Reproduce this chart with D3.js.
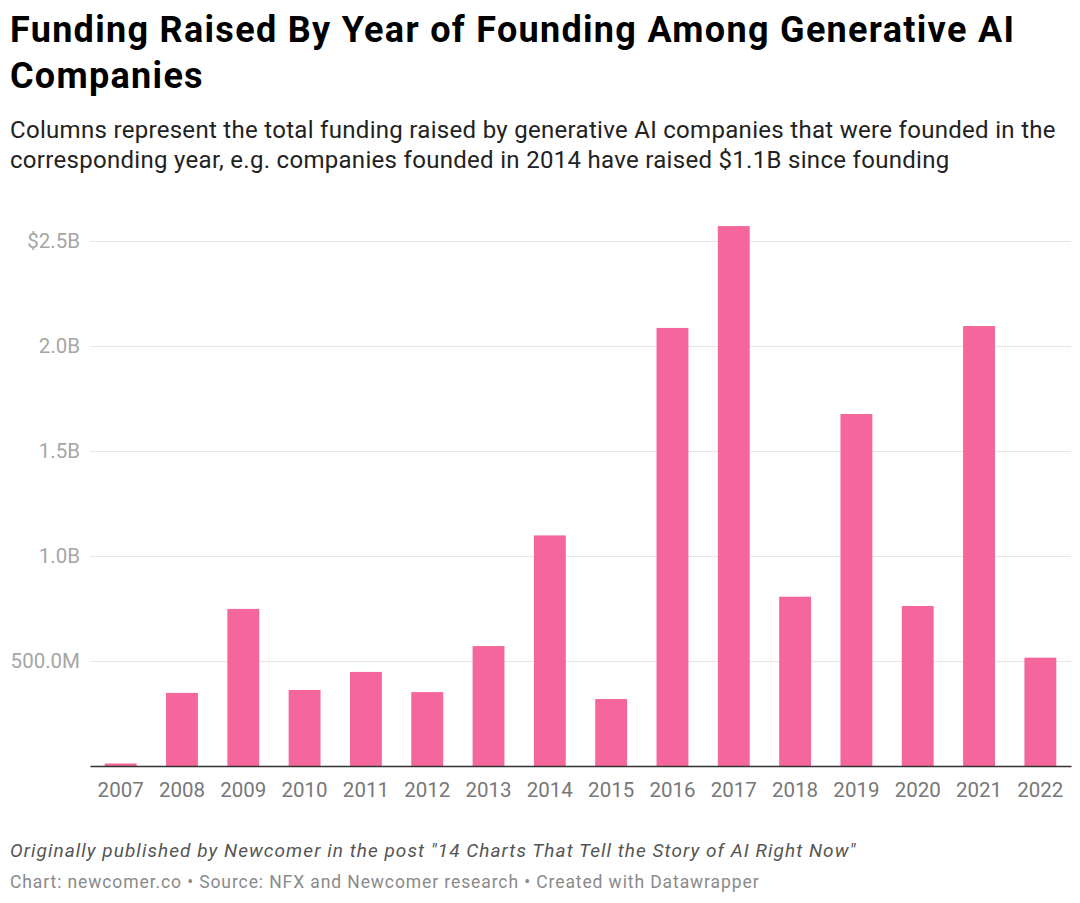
<!DOCTYPE html>
<html>
<head>
<meta charset="utf-8">
<script src="https://cdn.jsdelivr.net/npm/d3@7"></script>
<style>
    body { margin: 0; background: #fff; font-family: Roboto, sans-serif; }
    svg text { font-family: Roboto, sans-serif; }
</style>
</head>
<body>
<svg class="canvas" width="1080" height="903"></svg>
<script>
const years = ['2007', '2008', '2009', '2010', '2011', '2012', '2013', '2014',
    '2015', '2016', '2017', '2018', '2019', '2020', '2021', '2022'];
// funding in billions of dollars
const funding = [0.012, 0.348, 0.748, 0.362, 0.448, 0.352, 0.571, 1.098,
    0.319, 2.086, 2.571, 0.806, 1.676, 0.762, 2.095, 0.516];
const yTicks = [0, 0.5, 1.0, 1.5, 2.0, 2.5];
const yTickLabels = ['', '500.0M', '1.0B', '1.5B', '2.0B', '$2.5B'];

const titleLines = ['Funding Raised By Year of Founding Among Generative AI', 'Companies'];
const subtitleLines = [
    'Columns represent the total funding raised by generative AI companies that were founded in the',
    'corresponding year, e.g. companies founded in 2014 have raised $1.1B since founding'
];
const noteText = 'Originally published by Newcomer in the post "14 Charts That Tell the Story of AI Right Now"';
const sourceText = 'Chart: newcomer.co \u2022 Source: NFX and Newcomer research \u2022 Created with Datawrapper';

const data = years.map((y, i) => ({ year: y, value: funding[i] }));

const canvas = d3.select('.canvas');

// header
canvas.append('g')
    .selectAll('text')
    .data(titleLines)
    .enter()
    .append('text')
    .attr('x', 10)
    .attr('y', (d, i) => 42 + i * 46)
    .attr('font-size', 36)
    .attr('font-weight', 700)
    .attr('letter-spacing', 1.3)
    .attr('fill', '#000')
    .text(d => d);

canvas.append('g')
    .selectAll('text')
    .data(subtitleLines)
    .enter()
    .append('text')
    .attr('x', 10)
    .attr('y', (d, i) => 138 + i * 30)
    .attr('font-size', 24)
    .attr('letter-spacing', 0.3)
    .attr('fill', '#222')
    .text(d => d);

const margin = { left: 90, right: 1071, top: 241, bottom: 766 };

const x = d3.scaleBand()
    .domain(years)
    .range([margin.left, margin.right])
    .paddingInner(0.48)
    .paddingOuter(0.24);

const y = d3.scaleLinear()
    .domain([0, 2.5])
    .range([margin.bottom, margin.top]);

// gridlines + y labels
const yAxis = d3.axisLeft(y)
    .tickValues(yTicks)
    .tickSize(-(margin.right - margin.left))
    .tickFormat((d, i) => yTickLabels[i]);

canvas.append('g')
    .attr('id', 'y-axis')
    .attr('transform', `translate(${margin.left}, 0)`)
    .call(yAxis)
    .call(g => g.select('.domain').remove())
    .call(g => g.selectAll('.tick line').attr('stroke', '#e6e6e6').attr('stroke-width', 1))
    .call(g => g.selectAll('.tick text')
        .attr('x', -10)
        .attr('font-size', 20.5)
        .attr('fill', '#a6a6a6'));

// bars
canvas.append('g')
    .selectAll('rect')
    .data(data)
    .enter()
    .append('rect')
    .attr('x', d => x(d.year))
    .attr('y', d => y(d.value))
    .attr('width', x.bandwidth())
    .attr('height', d => y(0) - y(d.value))
    .attr('fill', '#f5679c');

// baseline + x labels
const xAxis = d3.axisBottom(x).tickSize(0).tickPadding(16);

canvas.append('g')
    .attr('id', 'x-axis')
    .attr('transform', `translate(0, ${margin.bottom})`)
    .call(xAxis)
    .call(g => g.select('.domain').attr('stroke', '#333').attr('stroke-width', 1.5))
    .call(g => g.selectAll('.tick text')
        .attr('font-size', 20.5)
        .attr('fill', '#777'));

// footer
canvas.append('text')
    .attr('x', 10)
    .attr('y', 857)
    .attr('font-size', 19)
    .attr('font-style', 'italic')
    .attr('letter-spacing', 1.05)
    .attr('fill', '#555')
    .text(noteText);

canvas.append('text')
    .attr('x', 10)
    .attr('y', 888)
    .attr('font-size', 17.5)
    .attr('letter-spacing', 0.9)
    .attr('fill', '#8a8a8a')
    .text(sourceText);
</script>
</body>
</html>
